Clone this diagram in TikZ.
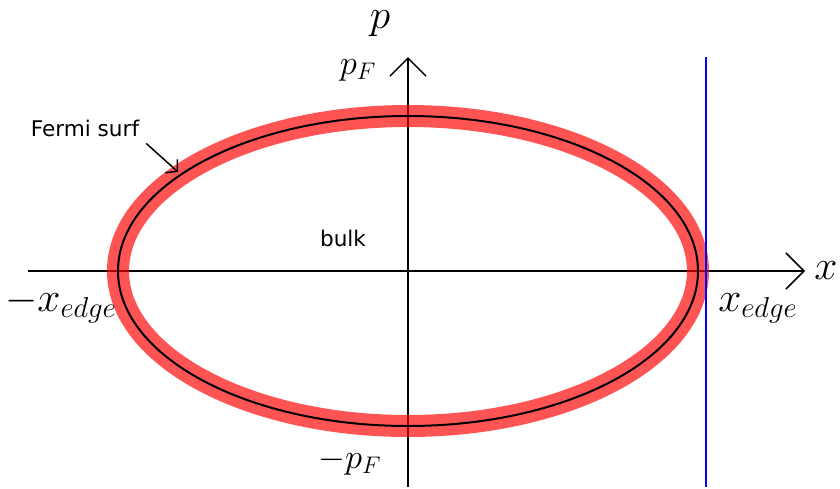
\documentclass[tikz,border=0pt]{standalone}
\usepackage{fontspec}
\newfontfamily\labelfont{DejaVu Sans}
\usetikzlibrary{arrows.meta}
\tikzset{
  axis/.style={line width=0.75pt,-{Straight Barb[length=9pt,width=18pt]}},
  fermiband/.style={red,opacity=0.67,line width=11pt},
  txt/.style={font=\labelfont\fontsize{10.8}{13}\selectfont},
  bigmath/.style={font=\huge},
  smallmath/.style={font=\LARGE}
}
\begin{document}
\begin{tikzpicture}[x=0.5pt,y=0.5pt]
\useasboundingbox (-408,-217) rectangle (432,271);
\coordinate (xl) at (-380,0);
\coordinate (xr) at (397,0);
\coordinate (pb) at (0,-216);
\coordinate (pt) at (0,214);
\coordinate (edgetop) at (298,214);
\coordinate (edgebot) at (298,-216);
\coordinate (fs) at (-230,99);
\draw[axis] (xl) -- (xr);
\draw[axis] (pb) -- (pt);
\draw[fermiband] (0,0) ellipse [x radius=145pt,y radius=77.5pt];
\draw[line width=1pt] (0,0) ellipse [x radius=145pt,y radius=77.5pt];
\draw[blue,line width=0.6pt] (edgetop) -- (edgebot);
\node[bigmath,inner sep=0pt] (plbl) at (-28,247) {$p$};
\node[bigmath] (xlbl) at (418,0) {$x$};
\node[smallmath] (pf) at (-50,201) {$p_F$};
\node[smallmath] (mpf) at (-58,-191) {$-p_F$};
\node[bigmath] (mxe) at (-347,-34) {$-x_{edge}$};
\node[bigmath] (xe) at (350,-37) {$x_{edge}$};
\node[txt] (fermi) at (-323,143) {Fermi surf};
\node[txt] (bulk) at (-65,33) {bulk};
\draw[line width=0.75pt,-{Straight Barb[length=4pt,width=9pt]}] (fermi.south east) -- (fs);
\end{tikzpicture}
\end{document}
